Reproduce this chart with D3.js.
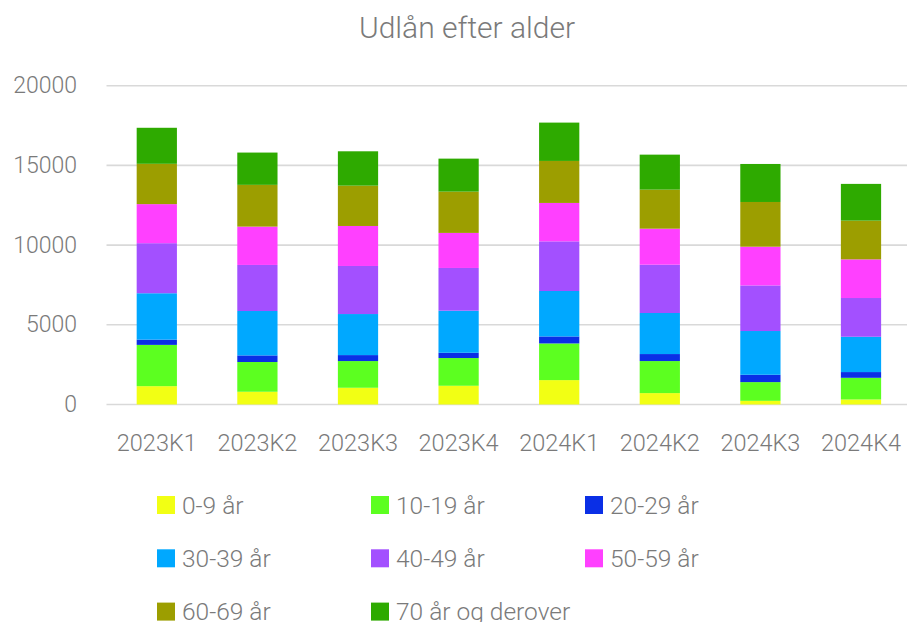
<!DOCTYPE html>
<html>
<head>
<meta charset="utf-8">
<script src="https://cdn.jsdelivr.net/npm/d3@7"></script>
<style>
  body { margin: 0; background: #fff; }
  text { font-family: Roboto, Lato, sans-serif; font-weight: 300; fill: #7a7a7a; }
</style>
</head>
<body>
<div id="chart"></div>
<script>
const quarters = ['2023K1', '2023K2', '2023K3', '2023K4', '2024K1', '2024K2', '2024K3', '2024K4']
const ageGroups = ['0-9 år', '10-19 år', '20-29 år', '30-39 år', '40-49 år', '50-59 år', '60-69 år', '70 år og derover']
const colors = ['#f2ff14', '#5cff20', '#0a2fe6', '#00a8ff', '#a350ff', '#ff40ff', '#9c9e00', '#2eaa00']

// one array per age group, one value per quarter
const age0_9   = [1150,  800, 1050, 1175, 1530,  715,  230,  315]
const age10_19 = [2590, 1865, 1675, 1740, 2300, 2010, 1175, 1360]
const age20_29 = [ 330,  415,  375,  330,  440,  440,  460,  360]
const age30_39 = [2910, 2785, 2575, 2640, 2850, 2575, 2745, 2215]
const age40_49 = [3140, 2890, 3015, 2680, 3115, 3030, 2860, 2430]
const age50_59 = [2450, 2405, 2510, 2200, 2410, 2260, 2430, 2425]
const age60_69 = [2530, 2620, 2530, 2590, 2635, 2450, 2805, 2430]
const age70up  = [2260, 2025, 2155, 2070, 2405, 2195, 2385, 2305]
const yTicks = [0, 5000, 10000, 15000, 20000]

const series = [age0_9, age10_19, age20_29, age30_39, age40_49, age50_59, age60_69, age70up]

const width = 907, height = 622

const rows = quarters.map((q, i) => {
  const r = { quarter: q }
  ageGroups.forEach((g, j) => r[g] = series[j][i])
  return r
})
const stacked = d3.stack().keys(ageGroups)(rows)

const x = d3.scaleBand()
  .domain(quarters)
  .range([106.5, 911.3])
  .paddingInner(0.6)
  .paddingOuter(0.3)

const y = d3.scaleLinear()
  .domain([0, 20000])
  .range([404.5, 85.7])

const svg = d3.select('#chart').append('svg')
  .attr('width', width)
  .attr('height', height)

svg.append('text')
  .attr('x', 467)
  .attr('y', 27)
  .attr('text-anchor', 'middle')
  .attr('dominant-baseline', 'central')
  .style('font-size', '30px')
  .text('Udlån efter alder')

// gridlines
svg.append('g')
  .selectAll('line')
  .data(yTicks)
  .join('line')
  .attr('x1', 106.5)
  .attr('x2', width)
  .attr('y1', d => y(d))
  .attr('y2', d => y(d))
  .attr('stroke', '#d9d9d9')
  .attr('stroke-width', 1.6)

svg.append('g')
  .selectAll('text')
  .data(yTicks)
  .join('text')
  .attr('x', 77)
  .attr('y', d => y(d))
  .attr('text-anchor', 'end')
  .attr('dominant-baseline', 'central')
  .style('font-size', '23px')
  .text(d => d)

// bars
svg.append('g')
  .selectAll('g')
  .data(stacked)
  .join('g')
  .attr('fill', (d, i) => colors[i])
  .selectAll('rect')
  .data(d => d)
  .join('rect')
  .attr('x', d => x(d.data.quarter))
  .attr('width', x.bandwidth())
  .attr('y', d => y(d[1]))
  .attr('height', d => y(d[0]) - y(d[1]))

svg.append('g')
  .selectAll('text')
  .data(quarters)
  .join('text')
  .attr('x', d => x(d) + x.bandwidth() / 2)
  .attr('y', 442.5)
  .attr('text-anchor', 'middle')
  .attr('dominant-baseline', 'central')
  .style('font-size', '23.5px')
  .text(d => d)

// legend, 3 per row
const legend = svg.append('g')
  .selectAll('g')
  .data(ageGroups)
  .join('g')
  .attr('transform', (d, i) => `translate(${157 + (i % 3) * 214},${505 + Math.floor(i / 3) * 53.3})`)

legend.append('rect')
  .attr('y', -9)
  .attr('width', 18)
  .attr('height', 18)
  .attr('fill', (d, i) => colors[i])

legend.append('text')
  .attr('x', 25)
  .attr('dominant-baseline', 'central')
  .style('font-size', '24.5px')
  .text(d => d)
</script>
</body>
</html>
